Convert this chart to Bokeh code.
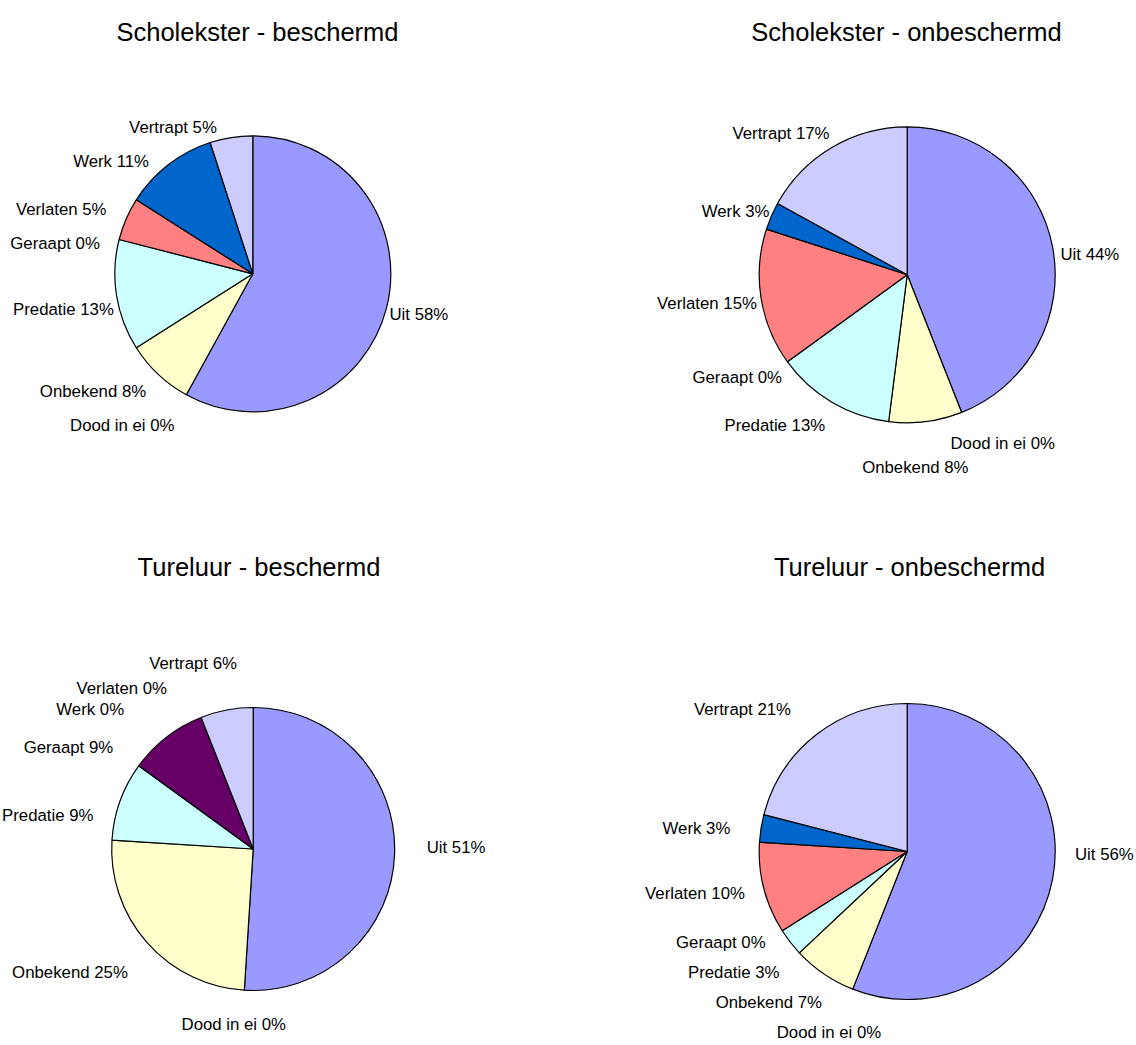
import numpy as np
from bokeh.plotting import figure
from bokeh.models import Range1d, ColumnDataSource
from bokeh.embed import file_html
from bokeh.resources import INLINE
from bokeh.core.properties import value

# ---------------- data ----------------
categories = ["Uit", "Dood in ei", "Onbekend", "Predatie", "Geraapt", "Verlaten", "Werk", "Vertrapt"]
colors = ["#9999FF", "#993366", "#FFFFCC", "#CCFFFF", "#660066", "#FF8080", "#0066CC", "#CCCCFF"]

titles = ["Scholekster - beschermd", "Scholekster - onbeschermd",
          "Tureluur - beschermd", "Tureluur - onbeschermd"]

scholekster_beschermd = [58, 0, 8, 13, 0, 5, 11, 5]
scholekster_onbeschermd = [44, 0, 8, 13, 0, 15, 3, 17]
tureluur_beschermd = [51, 0, 25, 9, 9, 0, 0, 6]
tureluur_onbeschermd = [56, 0, 7, 3, 0, 10, 3, 21]

series = [scholekster_beschermd, scholekster_onbeschermd,
          tureluur_beschermd, tureluur_onbeschermd]

# ---------------- layout (page pixel coordinates) ----------------
W, H = 1136, 1045
X0, Y0 = 0, 0

pie_layout = [  # centre x, centre y, radius, title centre x, title baseline
    (252.3, 273.3, 138.0, 257.0, 31.7),
    (906.7, 274.3, 148.0, 906.0, 31.7),
    (252.7, 848.5, 141.5, 258.5, 566.7),
    (906.7, 851.0, 148.0, 909.0, 566.7),
]

# label anchor per category: (align, x, baseline)
label_layout = [
    [("left", 389.0, 314.3), ("right", 174.0, 425.0), ("right", 145.7, 391.0), ("right", 113.3, 309.3),
     ("right", 99.3, 242.7), ("right", 106.0, 209.3), ("right", 148.5, 161.0), ("right", 216.3, 127.3)],
    [("left", 1060.0, 254.3), ("left", 950.0, 443.3), ("right", 968.0, 466.7), ("right", 824.7, 425.0),
     ("right", 781.5, 376.7), ("right", 756.4, 302.7), ("right", 769.0, 211.0), ("right", 829.0, 132.7)],
    [("left", 426.2, 846.7), ("right", 285.5, 1024.3), ("right", 127.3, 971.7), ("right", 93.0, 815.0),
     ("right", 112.7, 746.7), ("right", 166.5, 688.3), ("right", 123.6, 709.0), ("right", 236.4, 663.3)],
    [("left", 1074.5, 854.3), ("right", 880.7, 1032.0), ("right", 821.5, 1001.7), ("right", 778.9, 971.7),
     ("right", 765.1, 941.7), ("right", 744.4, 893.3), ("right", 729.8, 827.7), ("right", 790.5, 709.3)],
]


def py(y):
    """page y (down) -> data y (up)"""
    return Y0 + H - y


p = figure(width=W, height=H, x_range=Range1d(X0, X0 + W), y_range=Range1d(0, H),
           output_backend="svg", toolbar_location=None,
           x_axis_type=None, y_axis_type=None, min_border=0)
p.grid.visible = False
p.outline_line_color = None
p.background_fill_color = "white"
p.border_fill_color = "white"

FONT = value("Liberation Sans")

for vals, (cx, cy, r, tx, tb), labels, title in zip(series, pie_layout, label_layout, titles):
    v = np.array(vals, dtype=float)
    frac = v / v.sum()
    end_c = np.cumsum(frac)
    start_c = end_c - frac
    keep = v > 0
    src = ColumnDataSource(dict(
        x=[cx] * int(keep.sum()),
        y=[py(cy)] * int(keep.sum()),
        start=list(np.pi / 2 - 2 * np.pi * end_c[keep]),
        end=list(np.pi / 2 - 2 * np.pi * start_c[keep]),
        color=[c for c, k in zip(colors, keep) if k],
    ))
    p.wedge(x="x", y="y", radius=r, start_angle="start", end_angle="end",
            direction="anticlock", fill_color="color", line_color="black",
            line_width=1.2, source=src)

    # slice labels
    for align in ("left", "right"):
        xs, ys, ts = [], [], []
        for cat, val, (al, lx, lb) in zip(categories, vals, labels):
            if al == align:
                xs.append(lx)
                ys.append(py(lb))
                ts.append(f"{cat} {val}%")
        if xs:
            p.text(x=xs, y=ys, text=ts, text_align=align, text_baseline="alphabetic",
                   text_font=FONT, text_font_size="16.8px", text_color="black")

    # chart title
    p.text(x=[tx], y=[py(tb)], text=[title], text_align="center", text_baseline="alphabetic",
           text_font=FONT, text_font_size="25.5px", text_color="black")

open("out.html", "w").write(file_html(p, INLINE))
